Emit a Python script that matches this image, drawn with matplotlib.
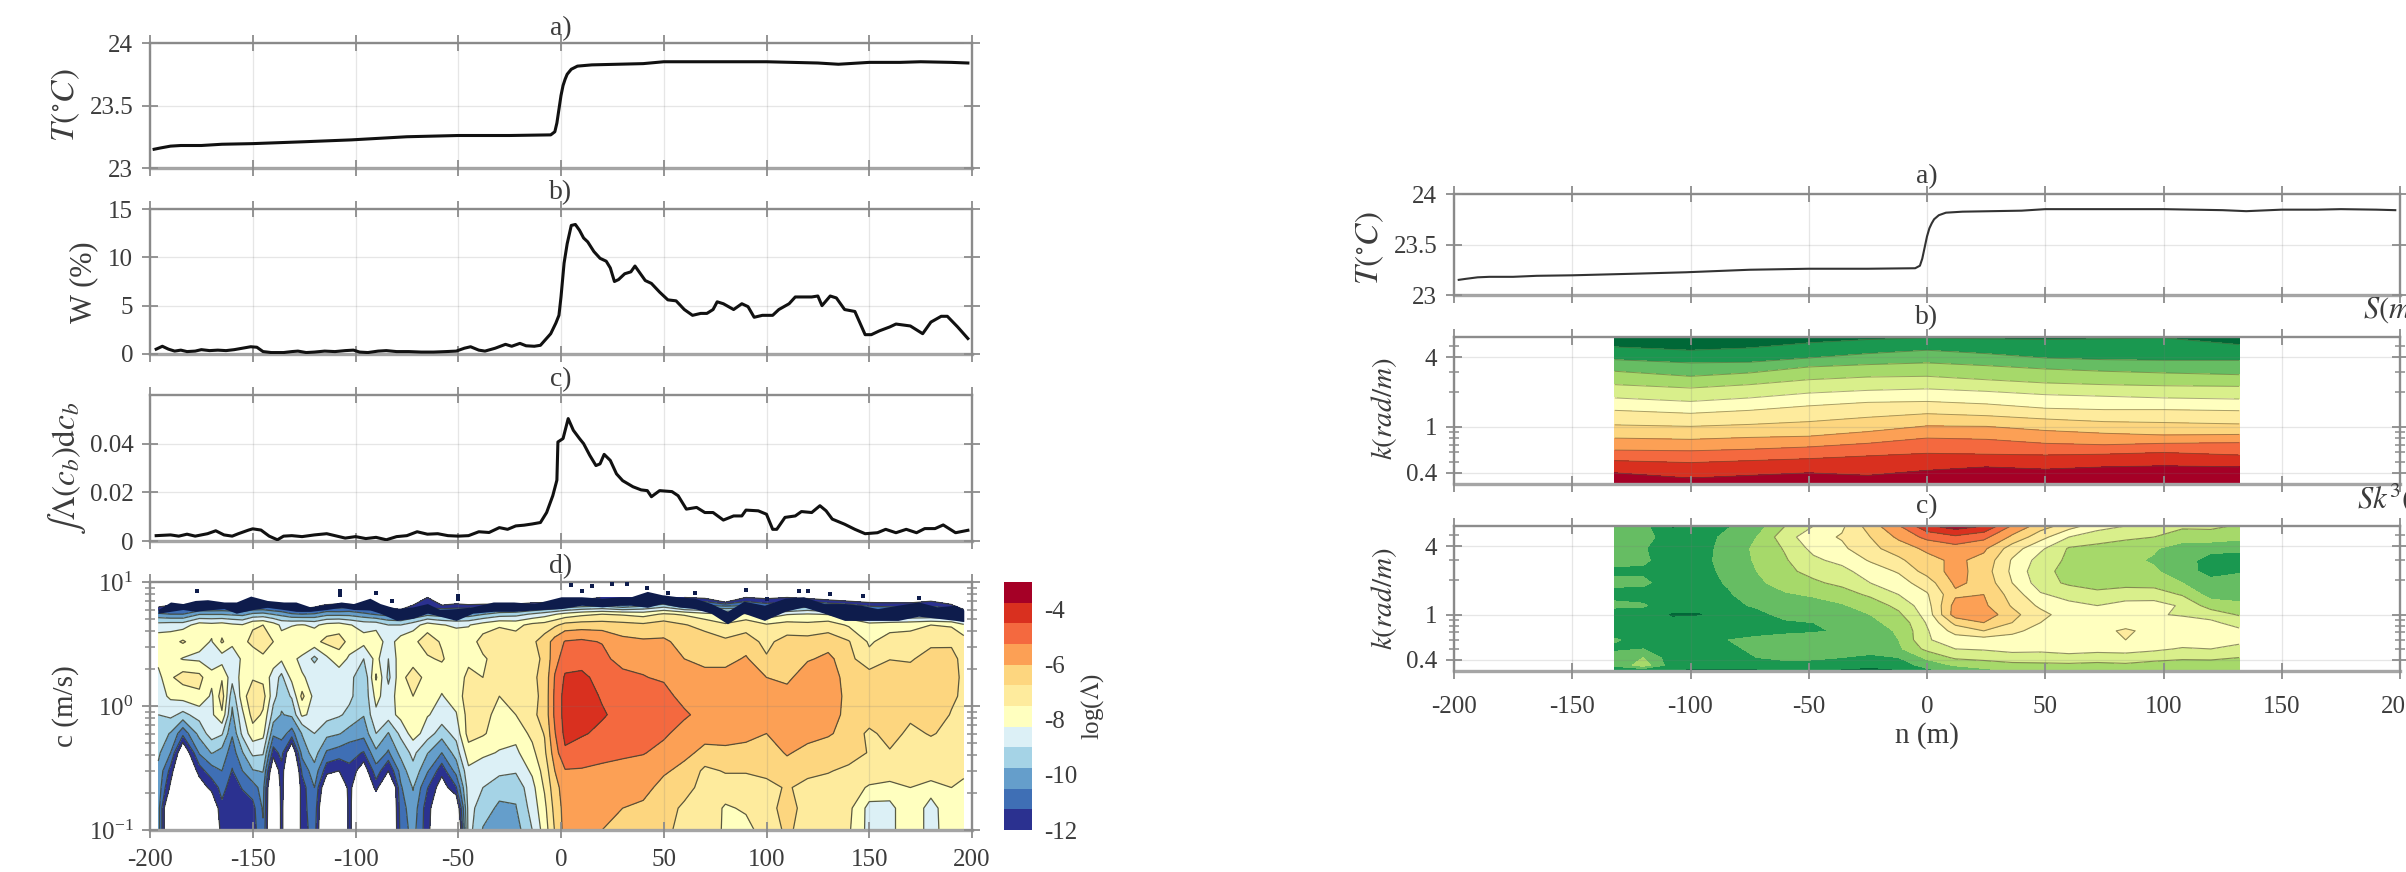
import numpy as np
import matplotlib
matplotlib.use('Agg')
import matplotlib.pyplot as plt
from matplotlib.ticker import FixedLocator, NullFormatter

plt.rcParams['font.family'] = ['Liberation Serif', 'DejaVu Serif']
plt.rcParams['mathtext.fontset'] = 'stix'
plt.rcParams['axes.unicode_minus'] = False

W_PX, H_PX = 2406, 872
TXT = '#3c3c3c'
AXC = '#8c8c8c'

# temperature, same transect in both figures
t_x = [-198, -195, -190, -185, -175, -165, -150, -125, -102, -75, -50, -25, -5, -3, -2, -1, 0, 1, 2, 3, 5, 8, 15,
       40, 50, 75, 100, 125, 135, 150, 165, 175, 190, 198]
t_val = [23.15, 23.16, 23.175, 23.18, 23.18, 23.19, 23.195, 23.21, 23.225, 23.25, 23.26, 23.26, 23.265, 23.29, 23.36,
         23.47, 23.58, 23.66, 23.71, 23.75, 23.79, 23.815, 23.825, 23.835, 23.85, 23.85, 23.85, 23.84, 23.83, 23.845,
         23.845, 23.85, 23.845, 23.84]

# whitecap coverage
w_x = [-197, -194, -191, -188, -185, -182, -178, -175, -171, -167, -163, -159, -155, -151, -148, -145, -141, -135,
       -131, -128, -124, -120, -115, -110, -105, -101, -98, -94, -89, -85, -80, -74, -68, -62, -56, -51, -47, -44,
       -40, -37, -32, -27, -24, -20, -17, -13, -10, -5, -2.5, -1, 0, 1.5, 3, 5, 7, 9, 11, 13, 16, 19, 22, 24, 26,
       28, 31, 34, 36, 39, 41, 44, 48, 52, 56, 60, 64, 68, 71, 74, 76, 79, 84, 88, 91, 94, 98, 103, 106, 111, 114,
       122, 125, 127, 131, 134, 138, 143, 148, 151, 155, 160, 163, 170, 176, 180, 185, 188, 193, 198]
w_val = [.5, .8, .5, .3, .4, .25, .3, .45, .35, .4, .35, .45, .6, .75, .7, .25, .15, .15, .25, .3, .15, .2, .3, .25,
         .35, .4, .2, .15, .3, .35, .25, .25, .2, .2, .25, .3, .6, .75, .4, .3, .6, 1, .8, 1.1, .85, .8, .9, 2.1,
         3.2, 4, 5.9, 9.4, 11.4, 13.3, 13.4, 12.8, 12, 11.6, 10.6, 9.9, 9.6, 8.9, 7.5, 7.7, 8.3, 8.5, 9.1, 8.2, 7.6,
         7.3, 6.4, 5.6, 5.5, 4.6, 4.0, 4.2, 4.2, 4.6, 5.4, 5.2, 4.6, 5.2, 4.9, 3.8, 4.0, 4.0, 4.6, 5.2, 5.9, 5.9,
         6.0, 5.0, 6.0, 5.8, 4.6, 4.4, 2.0, 2.0, 2.4, 2.8, 3.1, 2.9, 2.1, 3.3, 3.9, 3.9, 2.8, 1.6]

# integrated breaking length
i_x = [-197, -190, -186, -182, -178, -172, -168, -164, -160, -157, -152, -150, -146, -142, -138, -135, -131, -126,
       -120, -114, -110, -105, -100, -95, -90, -85, -80, -75, -70, -65, -60, -55, -50, -45, -40, -35, -30, -26, -22,
       -18, -14, -10, -7, -4, -2, -1.5, 1, 3.5, 6, 9, 11, 14, 17, 19, 21, 24, 27, 30, 35, 39, 42, 44, 48, 54, 57,
       61, 66, 70, 74, 79, 84, 88, 90, 96, 100, 103, 105, 109, 114, 117, 122, 126, 129, 132, 138, 143, 148, 154,
       158, 163, 168, 173, 177, 182, 186, 192, 198]
i_val = [.0022, .0025, .002, .0028, .002, .003, .0042, .0025, .002, .003, .0045, .005, .0045, .002, .0005, .002,
         .0022, .0018, .0025, .003, .0022, .0012, .0018, .001, .0015, .0005, .0018, .0022, .0038, .0028, .003, .0022,
         .002, .0022, .0038, .0035, .0055, .0048, .0062, .0065, .007, .0076, .0117, .0186, .025, .0407, .0421, .0503,
         .0455, .0421, .04, .0352, .031, .0317, .0356, .0331, .0276, .0248, .0223, .021, .0207, .0182, .0207, .0203,
         .0186, .0131, .0138, .0117, .0117, .0086, .0103, .0103, .0127, .0124, .011, .0048, .0048, .0097, .0103,
         .0121, .0117, .0145, .0124, .009, .0069, .0048, .003, .0034, .0048, .0034, .0048, .0034, .0051, .0051,
         .0066, .0034, .0044]

# log(Lambda) map: one line per x column, values from c = 0.1 upward
lam_c = [0.1, 0.15, 0.22, 0.3, 0.42, 0.6, 0.85, 1.2, 1.7, 2.4, 3.3, 4.5, 5.5, 6.5, 7.5]
lam_x = [-196, -190, -184, -176, -170, -165, -160, -155, -150, -145, -140, -136, -131, -126, -120, -114, -108, -103,
         -96, -90, -84, -78, -72, -65, -58, -51, -45, -38, -30, -22, -14, -8, -3, 2, 10, 20, 30, 40, 50, 60, 70, 80,
         90, 100, 110, 120, 130, 140, 150, 160, 170, 180, 190, 196]
lam_cols = [
    [-10.1, -10.1, -10, -9.9, -9.6, -9.4, -9.0, -8.6, -8.5, -8.0, -7.8, -8.7, -10.3, -12.5, -16],
    [-14, -14, -12.2, -11.5, -10.5, -9.8, -8.8, -8.1, -7.6, -8.0, -7.8, -8.6, -10.5, -12, -16],
    [-14, -14, -14, -14, -13, -11.0, -9.2, -7.9, -7.2, -8.3, -7.4, -8.6, -10.5, -11.8, -16],
    [-14, -14, -12.6, -11.6, -10.4, -9.5, -8.7, -7.6, -7.3, -8.4, -8.0, -7.9, -9.8, -11.8, -12.5],
    [-14, -13, -11.7, -10.8, -9.7, -8.6, -8.4, -8.4, -8.0, -8.7, -8.3, -8.0, -9.8, -11.8, -16],
    [-11.5, -11.4, -11, -10.5, -10, -8.9, -7.6, -7.1, -7.6, -8.6, -7.4, -7.9, -9.8, -11.7, -16],
    [-11.7, -11.7, -11.6, -11.3, -10.9, -10.4, -9.9, -9.5, -8.7, -8.8, -8.0, -8.1, -9.9, -11.7, -16],
    [-11.6, -11.6, -11.2, -10.5, -9.8, -8.8, -8.4, -7.8, -8.0, -8.1, -7.7, -8.2, -10, -11.8, -16],
    [-11.6, -11.5, -10.8, -9.8, -8.8, -7.8, -7.2, -7.0, -7.6, -7.9, -7.3, -7.6, -9.6, -11.6, -12.4],
    [-10.6, -10.4, -10.2, -9.7, -8.9, -8.0, -7.6, -7.2, -7.7, -7.7, -6.9, -7.5, -9.5, -11.6, -15],
    [-14, -14, -14, -13, -11.6, -10.3, -9.3, -8.7, -8.6, -7.8, -7.5, -7.9, -9.8, -11.8, -16],
    [-11.7, -11.7, -11.6, -11.5, -11, -10.2, -9.8, -9.5, -9.2, -8.1, -8.0, -8.4, -10, -11.9, -16],
    [-14, -14, -14, -14, -13, -10.8, -9.6, -8.9, -8.0, -8.1, -7.7, -8.3, -10.4, -12.2, -16],
    [-11.6, -11.6, -11.6, -11.1, -10.2, -9.7, -8.1, -7.3, -8.2, -8.4, -7.6, -8.2, -10.5, -13, -16],
    [-10.9, -10.7, -10.5, -10, -9.4, -9, -8.5, -8.5, -8.4, -9.2, -7.7, -8.4, -10.4, -12.5, -16],
    [-14, -14, -13, -11.7, -10.6, -9.5, -8.7, -8.6, -8.8, -8.4, -7.3, -8.0, -10, -11.8, -15],
    [-14, -14, -13.5, -12, -10.8, -9.7, -8.9, -8.6, -8.7, -7.8, -7.2, -7.9, -10, -11.9, -12.5],
    [-11.7, -11.7, -11.6, -11.4, -11, -10, -9.2, -8.8, -8.7, -8.4, -7.7, -8.2, -10, -11.7, -15],
    [-14, -14, -14, -12.6, -11.3, -10.2, -9.7, -9.6, -9.7, -9.0, -8.0, -8.5, -10.3, -12, -16],
    [-14, -13.5, -11.6, -10.8, -9.9, -9, -8.4, -8, -7.4, -8.0, -7.8, -8.5, -10.6, -12.2, -12.5],
    [-14, -14, -14, -12, -10.6, -9.8, -8.6, -8.7, -9.2, -9, -8.6, -9, -10.8, -12.5, -16],
    [-11, -10.9, -10.6, -10.2, -9.5, -8.8, -8, -7.8, -7.7, -7.8, -7.9, -9, -11, -13, -16],
    [-10.2, -10.0, -9.7, -9.2, -8.8, -7.9, -7.7, -7.5, -7.2, -7.8, -7.7, -8.6, -10.5, -12, -15],
    [-11.7, -11.7, -11.2, -10.4, -9.7, -8.6, -8.2, -7.8, -7.7, -7.6, -7.1, -7.9, -10, -11.8, -12],
    [-13.5, -13, -12.5, -11.7, -10.5, -9.4, -8.5, -8.3, -7.9, -7.4, -7.6, -8.2, -10.2, -12, -16],
    [-14, -13, -11.3, -10.2, -9.4, -8.7, -8.3, -7.9, -8.1, -8.0, -7.7, -8.4, -10.2, -11.8, -13],
    [-8.7, -8.7, -8.6, -8.4, -7.8, -7.2, -7.2, -7.1, -7.2, -7.8, -7.9, -8.3, -10.2, -11.8, -15],
    [-9.8, -9.4, -9, -8.6, -8.1, -7.4, -7.2, -7.3, -7.5, -7.6, -7.2, -7.9, -9.8, -11.6, -15],
    [-10.2, -9.9, -9.4, -8.8, -8.3, -7.9, -7.8, -7.5, -7.3, -7.2, -7.0, -7.6, -9.4, -11.5, -15],
    [-10.1, -9.8, -9.5, -8.9, -8.4, -8, -7.5, -7.3, -7.1, -7.1, -7.2, -7.7, -9.3, -11.5, -15],
    [-9.0, -8.7, -8.5, -8.1, -7.7, -7.3, -6.9, -7.0, -6.9, -7.0, -6.9, -7.3, -8.9, -11.2, -14],
    [-7.9, -7.7, -7.4, -7.2, -6.9, -6.7, -6.5, -6.5, -6.5, -6.6, -6.4, -7.2, -8.6, -11, -14],
    [-6.7, -6.5, -6.3, -6, -5.6, -5.3, -5.1, -5.1, -5.2, -5.5, -5.7, -6.9, -8.3, -10.8, -14],
    [-5.7, -5.7, -5.6, -5.3, -4.6, -4.3, -4.2, -4.2, -4.4, -4.9, -5.2, -6.5, -8, -10.5, -14],
    [-5.8, -5.8, -5.6, -5.3, -4.9, -4.4, -4.1, -4.0, -4.3, -4.9, -5.1, -6.4, -7.7, -10.2, -13],
    [-6, -5.9, -5.7, -5.4, -5.0, -4.7, -4.4, -4.6, -4.8, -5.0, -5.3, -6.4, -7.5, -10, -11.9],
    [-6.5, -6.0, -5.7, -5.5, -5.1, -4.9, -4.8, -4.9, -5.0, -5.6, -5.8, -6.5, -7.6, -10.5, -12],
    [-6.5, -6.1, -5.8, -5.6, -5.2, -5.0, -4.9, -5.0, -5.2, -5.6, -5.9, -6.6, -7.8, -10, -11.8],
    [-6.4, -6.4, -6.2, -5.9, -5.5, -5.1, -4.8, -4.9, -5.4, -5.8, -5.9, -6.4, -7.4, -9.5, -11.5],
    [-7.2, -6.9, -6.4, -6.2, -5.8, -5.6, -5.1, -5.6, -5.9, -6, -6.2, -6.7, -7.6, -10.5, -12],
    [-7.1, -7, -7.1, -6.9, -6.2, -5.7, -5.6, -5.5, -5.6, -6.4, -6.4, -7, -8, -10.5, -12.2],
    [-7.6, -7.6, -7.0, -6.7, -6.1, -5.8, -5.6, -5.6, -5.7, -6.3, -6.6, -7.4, -8.2, -10.8, -14],
    [-7.7, -7.4, -7.0, -6.7, -6.3, -5.7, -5.6, -5.6, -5.6, -5.9, -6.5, -7, -8.1, -10.6, -12],
    [-7.2, -7, -6.9, -6.6, -6.5, -6.0, -5.9, -5.9, -6.0, -6.7, -6.9, -7.4, -8.8, -11, -12.2],
    [-6.6, -6.5, -6.7, -6.4, -5.9, -5.6, -5.7, -5.7, -6.2, -6.4, -6.5, -7.2, -8.3, -10.8, -12],
    [-7.1, -7.0, -6.9, -6.6, -6.3, -5.6, -5.5, -5.5, -5.5, -6.1, -6.5, -7.3, -8.2, -10.2, -12.3],
    [-7.5, -7.4, -7.0, -6.7, -6.4, -5.9, -5.7, -5.6, -5.6, -5.8, -6.4, -7.1, -8.3, -10.8, -12.6],
    [-7.4, -7.3, -7.1, -6.9, -6.4, -6.3, -6.2, -6.2, -6.3, -6.5, -6.7, -7.6, -8.8, -11, -13],
    [-8.5, -8.5, -7.6, -6.9, -6.8, -6.9, -6.3, -6.3, -6.4, -7.3, -7.6, -8, -9.5, -11.5, -13],
    [-8.5, -8.5, -7.7, -7.1, -6.8, -6.5, -6.3, -6.2, -6.0, -6.8, -7.2, -7.8, -9.8, -11.6, -13],
    [-7.6, -7.6, -7.5, -7.2, -6.9, -6.9, -6.6, -6.3, -6.2, -6.9, -7.2, -7.7, -9.8, -11.6, -13],
    [-8.6, -8.6, -7.8, -7, -7, -6.7, -6.3, -6.2, -6.2, -6.2, -7.1, -7.5, -9.8, -11.5, -12.5],
    [-7.7, -7.6, -7.5, -7.2, -7, -6.9, -6.8, -6.6, -6.5, -6.5, -6.9, -7.6, -10, -11.9, -13],
    [-7.7, -7.7, -7.6, -7.4, -7.2, -7.1, -7, -6.9, -6.9, -7.0, -7.2, -8.1, -11, -13, -16],
]
lam_levels = [-12, -11.25, -10.5, -9.75, -9, -8.25, -7.5, -6.75, -6, -5.25, -4.5, -3.75, -3]
lam_colors = ['#2b3190', '#3f6fb5', '#659ecb', '#a5d3e6', '#dcf0f6', '#ffffbf', '#feeb9d', '#fdd67f', '#fca055',
              '#f4693f', '#d9301f', '#a50026']

# dark ragged edge of the map where the contours crowd together
edge_x = [-196, -190, -184, -178, -172, -164, -158, -151, -143, -135, -129, -122, -114, -107, -101, -93, -88, -80,
          -72, -65, -59, -51, -43, -33, -23, -13, 0, 10, 20, 29, 34, 42, 49, 57, 65, 73, 81, 89, 99, 109, 118, 128,
          138, 146, 154, 164, 174, 183, 192, 196]
edge_top = [6.0, 6.9, 6.7, 7.1, 7.2, 6.9, 6.9, 7.7, 7.1, 6.9, 6.9, 6.3, 6.6, 6.9, 6.7, 7.4, 6.7, 6.1, 6.3, 6.7, 6.0,
            6.1, 6.3, 6.9, 6.9, 6.7, 7.6, 7.6, 7.4, 7.6, 7.6, 8.4, 7.9, 7.6, 7.4, 6.7, 5.8, 7.0, 6.5, 7.4, 7.6, 6.7,
            6.7, 6.5, 6.1, 6.5, 6.9, 6.3, 6.5, 5.95]
edge_low = [5.6, 5.8, 6.0, 5.8, 5.95, 6.1, 5.6, 5.95, 6.25, 6.0, 5.8, 5.8, 6.0, 6.25, 6.0, 5.95, 5.6, 4.9, 5.1, 5.6,
            5.3, 4.9, 5.6, 5.8, 5.8, 5.95, 6.1, 6.5, 6.3, 6.5, 6.5, 6.25, 6.7, 6.3, 6.1, 5.6, 4.6, 5.6, 4.9, 5.8, 6.3,
            5.6, 4.9, 4.9, 4.9, 4.9, 5.3, 5.1, 4.9, 4.8]
speck_x = [-177, -107.5, -107.5, -90, -50, -50, -82, 5, 10, 15, 25, 32, 42, 52, 65, 90, 100, 116, 120, 131, 147, 174]
speck_c = [8.4, 8.5, 7.8, 8.1, 7.7, 7.3, 7.0, 9.4, 8.4, 9.2, 9.6, 9.6, 9.0, 8.1, 8.1, 8.6, 7.3, 8.4, 8.4, 8.0, 7.7, 7.4]

# S(n,k): wavenumber at which S crosses each level, one line per level, top to bottom
s_x = [-132, -100, -75, -50, -25, 0, 25, 50, 75, 100, 132]
s_levels = [0, 1, 2, 3, 4, 5, 6, 7, 8, 9, 10, 11, 12]
s_k = [
    [7, 7, 7, 7, 7, 7, 7, 7, 7, 7, 7],
    [4.93, 4.61, 4.83, 5.34, 5.71, 5.90, 5.79, 5.71, 5.79, 5.90, 5.16],
    [3.82, 3.58, 3.63, 3.95, 4.31, 4.61, 4.31, 3.95, 3.82, 3.77, 3.77],
    [3.03, 2.74, 2.93, 3.30, 3.46, 3.58, 3.39, 3.17, 3.03, 2.93, 2.83],
    [2.32, 2.17, 2.32, 2.56, 2.70, 2.74, 2.56, 2.40, 2.32, 2.27, 2.24],
    [1.78, 1.66, 1.78, 1.96, 2.07, 2.13, 2.03, 1.90, 1.84, 1.78, 1.74],
    [1.39, 1.31, 1.39, 1.52, 1.63, 1.66, 1.58, 1.45, 1.41, 1.41, 1.38],
    [1.04, 1.01, 1.05, 1.11, 1.21, 1.30, 1.25, 1.17, 1.11, 1.09, 1.06],
    [.80, .78, .81, .83, .91, 1.02, 1.01, .93, .88, .85, .86],
    [.63, .62, .64, .67, .72, .80, .78, .72, .70, .72, .73],
    [.51, .49, .51, .53, .56, .59, .58, .57, .58, .60, .57],
    [.40, .36, .38, .40, .38, .42, .45, .43, .45, .46, .45],
    [.2, .2, .2, .2, .2, .2, .2, .2, .2, .2, .2],
]
s_colors = ['#006837', '#1a9850', '#66bd63', '#a6d96a', '#d9ef8b', '#ffffbf', '#feeb9d', '#fdd67f', '#fca055',
            '#f4693f', '#d9301f', '#a50026']

# Sk^3(n,k): one line per x column, values from k = 0.32 upward
sk_k = [.32, .36, .42, .5, .6, .72, .85, 1, 1.2, 1.5, 1.9, 2.4, 3, 3.8, 4.8, 6]
sk_x = [-132, -120, -108, -96, -84, -72, -60, -48, -36, -24, -12, 0, 12, 24, 36, 48, 60, 72, 84, 96, 108, 120, 132]
sk_cols = [
    [1.2, 2.2, 2.5, 1.8, 2.1, 1.5, 1.7, 1.5, 2.2, 1.7, 2.2, 1.8, 2.3, 2.2, 3, 2.5],
    [1, 3.5, 3, 2, 1.6, 1.5, 1.8, 1.6, 2.1, 1.6, 2.2, 1.8, 2.2, 2.1, 2.5, 2.3],
    [.9, 1.5, 1.4, 1.3, 1.4, 1.3, 1.2, .9, 1.4, 1.5, 1.5, 1.4, 1.4, 1.3, 1.3, .9],
    [.8, 1.2, 1.2, 1.3, 1.3, 1.4, 1.5, .9, 1.4, 1.5, 1.6, 1.6, 1.6, 1.6, 1.5, 1.1],
    [.8, 1.3, 1.6, 1.8, 2.0, 1.4, 1.5, 1.6, 1.8, 1.9, 2.1, 2.3, 2.5, 2.4, 2.3, 1.9],
    [.8, 1.4, 2, 2.2, 2.3, 1.5, 1.6, 1.8, 2.1, 2.5, 2.8, 3.0, 3.1, 3.2, 3.0, 2.5],
    [.9, 1.7, 2.2, 2.4, 2.5, 1.7, 1.9, 2.2, 2.5, 2.9, 3.4, 3.7, 3.9, 4.1, 4.6, 4.0],
    [.8, 1.6, 2.2, 2.3, 2.4, 1.9, 2.0, 2.3, 2.7, 3.1, 3.8, 4.4, 4.8, 5.3, 5.6, 5.0],
    [.8, 1.4, 2, 2.4, 2.5, 2.1, 2.3, 2.5, 2.9, 3.5, 4.3, 4.7, 5.3, 5.8, 6.1, 5.8],
    [.7, 1.2, 1.9, 2.2, 2.8, 2.6, 2.8, 3, 3.4, 4.2, 5, 5.5, 6.1, 6.7, 7, 7.5],
    [.9, 1.3, 2, 2.8, 3.0, 3.1, 3.3, 3.8, 4.3, 5, 5.6, 6.1, 6.8, 7.5, 8.2, 8.9],
    [1.6, 2.5, 3.2, 4.3, 4.9, 4.9, 5.1, 5.4, 5.6, 5.9, 6.5, 7.4, 7.7, 8.2, 9.3, 10.8],
    [2.3, 3.1, 4.2, 5, 5.5, 6.4, 7.3, 8.5, 8.4, 7.8, 8.2, 8.4, 8.2, 8.6, 9.8, 11.6],
    [2.7, 3.4, 4.4, 5.1, 5.6, 7, 8, 8.7, 8.2, 8, 7.7, 7.5, 7.7, 8.2, 9.3, 11],
    [3, 3.7, 4.6, 5.3, 5.7, 6.2, 7, 7.3, 6.9, 6.6, 6, 5.8, 5.9, 6.5, 7.8, 8.9],
    [3.1, 3.8, 4.5, 5.3, 5.5, 5.7, 6, 6.3, 5.8, 5.1, 4.5, 4.3, 4.6, 5.2, 6.4, 7.5],
    [3.1, 3.8, 4.7, 5.4, 5.6, 5.6, 5.6, 5.5, 5.2, 4.7, 3.8, 3.7, 3.8, 3.9, 5, 6.5],
    [3.1, 3.7, 4.6, 5.3, 5.7, 5.8, 5.6, 5.4, 5, 4.3, 3.5, 3.4, 3.3, 3.7, 4.5, 5.4],
    [3.1, 3.8, 4.7, 5.3, 6, 6.1, 5.7, 5.4, 5.2, 4.7, 3.5, 3.3, 3.2, 3.5, 4.2, 5],
    [3.0, 3.6, 4.4, 5.2, 5.8, 5.8, 5.4, 5.1, 5.3, 4.6, 3.5, 3.1, 2.9, 3.1, 4, 4.8],
    [3.1, 3.5, 4.2, 4.9, 5.6, 5.6, 5.4, 4.9, 4.9, 3.9, 3.0, 2.6, 2.4, 2.5, 3.5, 4.2],
    [3, 3.6, 4.2, 5, 5.4, 5.4, 5.2, 4.6, 3.5, 2.6, 2.4, 1.5, 1.6, 2.3, 3.6, 4.2],
    [3, 3.4, 4, 4.8, 5.2, 5.2, 4.6, 3.9, 3.3, 2.4, 2.4, 1.9, 1.5, 2.3, 3.3, 3.9],
]

x_ticks = [-200, -150, -100, -50, 0, 50, 100, 150, 200]
k_ticks = [0.4, 1, 4]
k_minor = [.5, .6, .7, .8, .9, 2, 3, 5]


def px_axes(fig, left, top, right, bottom):
    return fig.add_axes([left / W_PX, 1 - bottom / H_PX, (right - left) / W_PX, (bottom - top) / H_PX])


def px_text(fig, x, y, s, **kw):
    kw.setdefault('ha', 'center')
    kw.setdefault('va', 'center')
    kw.setdefault('fontsize', 18)
    kw.setdefault('color', TXT)
    fig.text(x / W_PX, 1 - y / H_PX, s, **kw)


def style(ax, pad_x=8):
    ax.set_xlim(-200, 200)
    ax.set_xticks(x_ticks)
    ax.grid(True, which='major', color='#777777', lw=0.9, alpha=0.18)
    ax.set_axisbelow(False)
    ax.tick_params(which='major', direction='inout', top=True, right=True, length=12, width=1.3, color=AXC,
                   labelcolor=TXT, labelsize=18, pad=6)
    ax.tick_params(axis='x', pad=pad_x)
    ax.tick_params(which='minor', direction='inout', left=True, right=True, length=7, width=1.1, color=AXC)
    for sp in ax.spines.values():
        sp.set_color(AXC)
        sp.set_linewidth(1.7)
    ax.spines['bottom'].set_linewidth(2.4)
    ax.spines['bottom'].set_color('#a5a5a5')


def k_axis(ax):
    ax.set_yscale('log')
    ax.set_ylim(0.32, 6)
    ax.yaxis.set_major_locator(FixedLocator(k_ticks))
    ax.yaxis.set_minor_locator(FixedLocator(k_minor))
    ax.yaxis.set_major_formatter(plt.FixedFormatter(['0.4', '1', '4']))
    ax.yaxis.set_minor_formatter(NullFormatter())


fig = plt.figure(figsize=(W_PX / 100, H_PX / 100), dpi=100)

# left figure
ax = px_axes(fig, 150, 43, 972, 168)
ax.plot(t_x, t_val, color='#111111', lw=2.2, zorder=5)
ax.set_ylim(23, 24)
ax.set_yticks([23, 23.5, 24], ['23', '23.5', '24'])
style(ax)
ax.tick_params(axis='x', labelbottom=False)

ax = px_axes(fig, 150, 209, 972, 354)
ax.plot(w_x, w_val, color='#111111', lw=2.2, zorder=5)
ax.set_ylim(0, 15)
ax.set_yticks([0, 5, 10, 15])
style(ax)
ax.tick_params(axis='x', labelbottom=False)

ax = px_axes(fig, 150, 395, 972, 541)
ax.plot(i_x, i_val, color='#111111', lw=2.2, zorder=5)
ax.set_ylim(0, 0.06)
ax.set_yticks([0, 0.02, 0.04], ['0', '0.02', '0.04'])
style(ax)
ax.tick_params(axis='x', labelbottom=False)

ax = px_axes(fig, 150, 582, 972, 830)
lam = np.array(lam_cols).T
cf = ax.contourf(lam_x, lam_c, lam, levels=lam_levels, colors=lam_colors)
ax.contour(lam_x, lam_c, lam, levels=lam_levels, colors='#3d4030', linewidths=0.9, linestyles='solid', alpha=0.85)
ax.fill_between(edge_x, edge_low, edge_top, color='#0e1c4c', lw=0, zorder=3)
ax.scatter(speck_x, speck_c, marker='s', s=11, color='#0e1c4c', lw=0, zorder=3)
ax.set_yscale('log')
ax.set_ylim(0.1, 10)
style(ax)
ax.set_xticks(x_ticks, [str(v) for v in x_ticks])

cax = px_axes(fig, 1004, 582, 1032, 830)
cb = fig.colorbar(cf, cax=cax)
cb.set_ticks([-12, -10, -8, -6, -4], labels=['-12', '-10', '-8', '-6', '-4'])
cb.outline.set_visible(False)
cb.ax.tick_params(length=0, labelsize=18, labelcolor=TXT, pad=9)

px_text(fig, 561, 29, 'a)', fontsize=20)
px_text(fig, 561, 193, 'b)', fontsize=20)
px_text(fig, 561, 380, 'c)', fontsize=20)
px_text(fig, 561, 567, 'd)', fontsize=20)
px_text(fig, 66, 105, r'$T(^{\circ}C)$', rotation=90, fontsize=24)
px_text(fig, 84, 282, 'W (%)', rotation=90, fontsize=22)
px_text(fig, 66, 468, r'$\int\Lambda(c_b)\mathrm{d}c_b$', rotation=90, fontsize=24)
px_text(fig, 66, 706, 'c (m/s)', rotation=90, fontsize=21)
px_text(fig, 1093, 706, r'log($\Lambda$)', rotation=90, fontsize=18)

# right figure
ax = px_axes(fig, 1454, 194, 2400, 295)
ax.plot(t_x, t_val, color='#333333', lw=1.5, zorder=5)
ax.set_ylim(23, 24)
ax.set_yticks([23, 23.5, 24], ['23', '23.5', '24'])
style(ax)
ax.tick_params(axis='x', labelbottom=False)

ax = px_axes(fig, 1454, 337, 2400, 484)
s_xx = np.tile(s_x, (len(s_levels), 1))
s_zz = np.tile(np.array(s_levels)[:, None], (1, len(s_x)))
ax.contourf(s_xx, np.array(s_k), s_zz, levels=s_levels, colors=s_colors)
ax.contour(s_xx, np.array(s_k), s_zz, levels=s_levels[1:-1], colors='#555533', linewidths=0.7, alpha=0.5)
k_axis(ax)
style(ax)
ax.tick_params(axis='x', labelbottom=False)

ax = px_axes(fig, 1454, 526, 2400, 671)
sk = np.array(sk_cols).T
ax.contourf(sk_x, sk_k, sk, levels=s_levels, colors=s_colors)
ax.contour(sk_x, sk_k, sk, levels=s_levels[4:], colors='#555533', linewidths=0.8, alpha=0.65)
k_axis(ax)
style(ax, pad_x=12)
ax.set_xticks(x_ticks, [str(v) for v in x_ticks])

px_text(fig, 1927, 177, 'a)', fontsize=20)
px_text(fig, 1927, 318, 'b)', fontsize=20)
px_text(fig, 1927, 507, 'c)', fontsize=20)
px_text(fig, 1370, 248, r'$T(^{\circ}C)$', rotation=90, fontsize=24)
px_text(fig, 1384, 409, r'$k(rad/m)$', rotation=90, fontsize=21)
px_text(fig, 1384, 599, r'$k(rad/m)$', rotation=90, fontsize=21)
px_text(fig, 1927, 736, 'n (m)', fontsize=21)
px_text(fig, 2363, 310, r'$S(m$', ha='left', fontsize=22)
px_text(fig, 2357, 498, r'$Sk^{3}($', ha='left', fontsize=22)

fig.savefig('out.png', dpi=100, facecolor='white')
